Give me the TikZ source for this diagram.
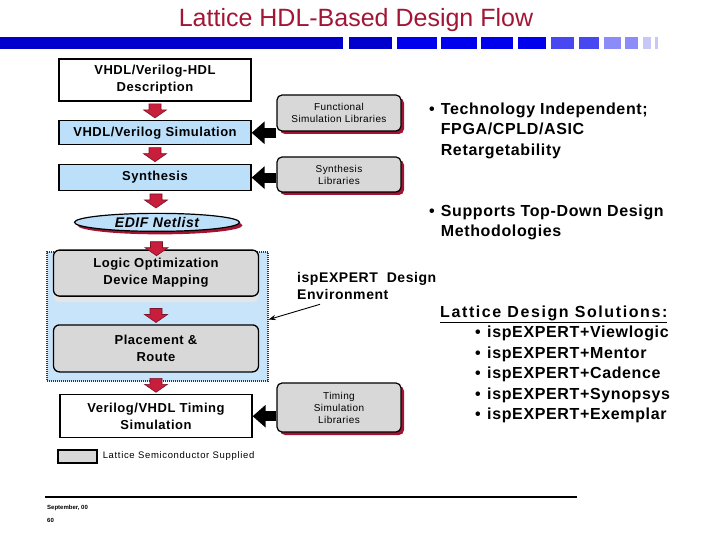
\documentclass[tikz,border=0pt]{standalone}
\usepackage{fontspec}
\setmainfont{Liberation Sans}
\newfontfamily\trk[LetterSpace=4]{Liberation Sans}
\newfontfamily\ltrk[LetterSpace=7]{Liberation Sans}
\newfontfamily\wtrk[LetterSpace=10]{Liberation Sans}
\usetikzlibrary{arrows.meta,positioning,calc,shapes.geometric,shadows}
\definecolor{titlered}{RGB}{163,21,53}
\definecolor{barA}{RGB}{0,0,204}
\definecolor{barB}{RGB}{0,0,236}
\definecolor{barC}{RGB}{72,72,240}
\definecolor{barD}{RGB}{140,140,248}
\definecolor{barE}{RGB}{200,200,248}
\definecolor{boxblue}{RGB}{188,224,250}
\definecolor{envblue}{RGB}{200,228,250}
\definecolor{envline}{RGB}{40,50,120}
\definecolor{boxgray}{RGB}{216,216,216}
\definecolor{shadowred}{RGB}{160,20,50}
\definecolor{arrfill}{RGB}{200,30,60}
\definecolor{arrline}{RGB}{120,20,40}
% red block arrow between two flow steps
\newcommand{\flowarrow}[3][0]{%
  \path ($(#2.south)!0.5!(#3.north)+(0,#1)$) coordinate (m);
  \filldraw[redarrow] ($(m)+(-6,-7)$) -- ($(m)+(6,-7)$) -- ($(m)+(6,-1)$) -- ($(m)+(11.5,-1)$)
    -- ($(m)+(0,7)$) -- ($(m)+(-11.5,-1)$) -- ($(m)+(-6,-1)$) -- cycle;}

\begin{document}
\begin{tikzpicture}[x=1pt,y=-1pt,>=Stealth,
  flowbox/.style={draw,line width=1.3pt,minimum width=192pt,align=center,inner sep=0pt,
    font=\trk\bfseries\fontsize{13}{17}\selectfont},
  bluebox/.style={flowbox,fill=boxblue},
  graybox/.style={flowbox,fill=boxgray,rounded corners=6pt,minimum width=205pt},
  libbox/.style={draw,line width=1.2pt,fill=boxgray,rounded corners=5pt,minimum width=124pt,
    align=center,inner sep=0pt,font=\trk\fontsize{10}{12}\selectfont,
    drop shadow={shadow xshift=3pt,shadow yshift=-3pt,fill=shadowred,opacity=1}},
  redarrow/.style={fill=arrfill,draw=arrline,line width=0.6pt},
  libarrow/.style={line width=10pt,-{Triangle[length=13pt,width=22pt]}},
  rtext/.style={inner sep=0pt,font=\trk\bfseries\fontsize{16}{20.5}\selectfont}]
\useasboundingbox (0,0) rectangle (720,540);
% title and bar
\node (title) [font=\fontsize{25}{30}\selectfont,text=titlered] at (356,20) {Lattice HDL-Based Design Flow};
\foreach \a/\b/\c in {0/343/barA,349/392/barA,397/437/barB,441/477/barB,481/513/barB,518/546/barB,
  551/574/barC,579/599/barC,604/621/barD,625/638/barD,643/651/barE,655/658/barE}
  \fill[\c] (\a,37) rectangle (\b,49);
% ispEXPERT environment
\node (env) [fill=envblue,draw=envline,line width=1.5pt,dash pattern=on 1pt off 1pt,
  minimum width=221pt,minimum height=129pt,inner sep=0pt] at (157.5,316.5) {};
% flow
\node (desc) [flowbox,fill=white,minimum height=42pt] at (155,80) {VHDL/Verilog-HDL\\Description};
\node (fsim) [bluebox,minimum height=24pt,below=18.5pt of desc] {VHDL/Verilog Simulation};
\node (syn) [bluebox,minimum height=26pt,below=18.5pt of fsim] {Synthesis};
\node (edif) [ellipse,draw,line width=1.2pt,fill=boxblue,minimum width=165pt,minimum height=18pt,
  inner sep=0pt,below=21.5pt of syn,xshift=2pt,font=\trk\bfseries\itshape\fontsize{14}{17}\selectfont,
  drop shadow={shadow xshift=3pt,shadow yshift=-3pt,fill=shadowred,opacity=1}] {EDIF Netlist};
\node (logic) [graybox,minimum height=46pt,below=17.5pt of edif,xshift=-1pt,
  drop shadow={shadow xshift=0pt,shadow yshift=-6pt,fill=black!10,opacity=1}] {Logic Optimization\\Device Mapping};
\node (place) [graybox,minimum height=47pt,below=27.5pt of logic] {Placement \&\\Route};
\node (timing) [flowbox,fill=white,minimum height=43pt,below=21.5pt of place] {Verilog/VHDL Timing\\Simulation};
\flowarrow{desc}{fsim}
\flowarrow{fsim}{syn}
\flowarrow[-1]{syn}{edif}
\flowarrow[8]{edif}{logic}
\flowarrow[5]{logic}{place}
\flowarrow[2]{place}{timing}
% libraries
\node (flib) [libbox,minimum height=36pt] at (339,113) {Functional\\Simulation Libraries};
\node (slib) [libbox,minimum height=35pt] at (339,174.5) {Synthesis\\Libraries};
\node (tlib) [libbox,minimum height=49pt] at (339,407.5) {Timing\\Simulation\\Libraries};
\draw[libarrow] (fsim.east -| flib.west) -- (fsim.east);
\draw[libarrow] (syn.east -| slib.west) -- (syn.east);
\draw[libarrow] (timing.east -| tlib.west) -- (timing.east);
% environment label
\node (envlbl) [anchor=base west,inner sep=0pt,font=\trk\bfseries\fontsize{14}{17}\selectfont] at (297,282)
  {\begin{tabular}[t]{@{}l@{}}ispEXPERT\ \ Design\\Environment\end{tabular}};
\draw[->,line width=0.9pt] ($(envlbl.south west)+(23,0)$) -- ($(env.east)+(0,3)$);
% legend
\node (leg) [draw,line width=1.2pt,fill=boxgray,minimum width=39pt,minimum height=13pt,inner sep=0pt] at (77.5,456.5) {};
\node (legtxt) [right=5pt of leg,inner sep=0pt,font=\ltrk\fontsize{9.5}{11}\selectfont] {Lattice Semiconductor Supplied};
% bullets
\node (tech) [rtext,anchor=base west] at (429,114.5)
  {\begin{tabular}[t]{@{}l@{\hspace{6pt}}l@{}}\textbullet & Technology Independent;\\ & FPGA/CPLD/ASIC\\ & Retargetability\end{tabular}};
\node (topdown) [rtext,anchor=base west] at (429,216.5)
  {\begin{tabular}[t]{@{}l@{\hspace{6pt}}l@{}}\textbullet & Supports Top-Down Design\\ & Methodologies\end{tabular}};
\node (sols) [rtext,anchor=base west] at (440,317)
  {\begin{tabular}[t]{@{}l@{}}\underline{\wtrk\bfseries Lattice Design Solutions:}\\
  \hspace{35pt}\makebox[12pt][l]{\textbullet}ispEXPERT+Viewlogic\\
  \hspace{35pt}\makebox[12pt][l]{\textbullet}ispEXPERT+Mentor\\
  \hspace{35pt}\makebox[12pt][l]{\textbullet}ispEXPERT+Cadence\\
  \hspace{35pt}\makebox[12pt][l]{\textbullet}ispEXPERT+Synopsys\\
  \hspace{35pt}\makebox[12pt][l]{\textbullet}ispEXPERT+Exemplar\end{tabular}};
% footer
\draw[line width=2pt] (45,497) -- (577,497);
\node (date) [anchor=west,inner sep=0pt,font=\bfseries\fontsize{6}{7}\selectfont] at (47,508) {September, 00};
\node (page) [anchor=west,inner sep=0pt,font=\bfseries\fontsize{6}{7}\selectfont] at (47,520) {60};
\end{tikzpicture}
\end{document}
